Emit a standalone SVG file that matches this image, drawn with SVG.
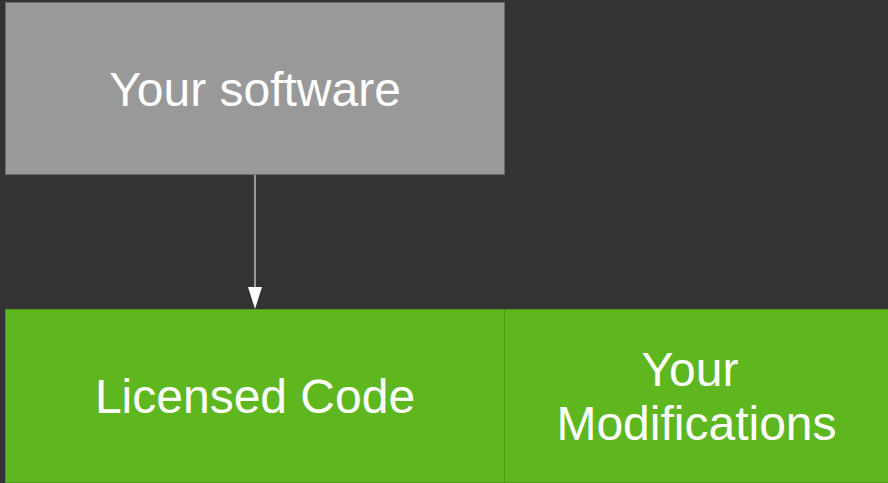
<svg xmlns="http://www.w3.org/2000/svg" width="888" height="483" viewBox="0 0 888 483">
  <defs>
    <style>
      .lbl { font-family: "Liberation Sans", Arial, sans-serif; font-size: 48px; fill: #ffffff; text-anchor: middle; }
      .grey { fill: #999999; stroke: #6a6a6a; stroke-width: 1; }
      .green { fill: #5eb71f; stroke: #4c9818; stroke-width: 1; }
      .edge { stroke: #bbbbbb; stroke-width: 1.5; fill: none; }
      .head { fill: #ffffff; }
    </style>
  </defs>
  <rect x="0" y="0" width="888" height="483" fill="#333333"/>

  <g id="your-software">
    <rect class="grey" x="5.5" y="2.5" width="499" height="172"/>
    <text class="lbl" x="255" y="106">Your software</text>
  </g>

  <g id="licensed-code">
    <rect class="green" x="5.5" y="309.5" width="499" height="173"/>
    <text class="lbl" x="255" y="413">Licensed Code</text>
  </g>

  <g id="your-modifications">
    <rect class="green" x="504.5" y="309.5" width="390" height="173"/>
    <text class="lbl" x="690" y="386">Your</text>
    <text class="lbl" x="696.5" y="440">Modifications</text>
  </g>

  <g id="connectors">
    <line class="edge" x1="255" y1="175" x2="255" y2="290"/>
    <path class="head" d="M248,287 L262,287 L255,309 Z"/>
  </g>
</svg>
